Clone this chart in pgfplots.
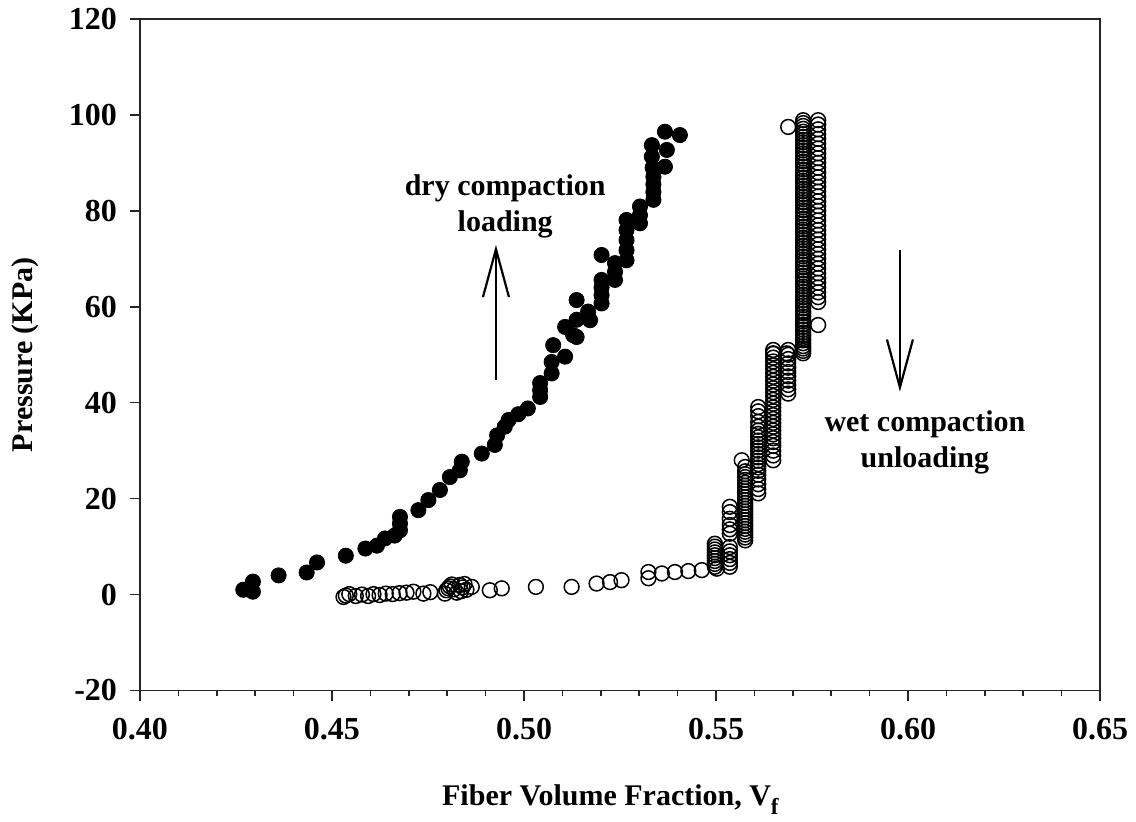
\documentclass[border=0pt]{standalone}
\usepackage{fontspec}
\setmainfont{Liberation Serif}
\usepackage{pgfplots}
\pgfplotsset{compat=1.18}
\usetikzlibrary{arrows.meta}

\newcommand{\chartfont}{\bfseries\fontsize{15bp}{18bp}\selectfont}
\newcommand{\tickfont}{\bfseries\fontsize{16bp}{19bp}\selectfont}

\begin{document}
\begin{tikzpicture}
\begin{axis}[
  name=ax,
  scale only axis,
  width=480bp, height=335.75bp,
  xmin=0.40, xmax=0.65, ymin=-20, ymax=120,
  xtick={0.40,0.45,0.50,0.55,0.60,0.65},
  xticklabels={0.40,0.45,0.50,0.55,0.60,0.65},
  minor x tick num=4,
  ytick={-20,0,20,40,60,80,100,120},
  yticklabels={-20,0,20,40,60,80,100,120},
  tick align=outside,
  xtick pos=bottom, ytick pos=left,
  major tick length=5bp, minor tick length=2.5bp,
  every tick/.style={black!85, line width=0.75bp},
  axis line style={black!85, line width=0.75bp},
  tick label style={font=\tickfont},
  xticklabel style={yshift=-5.5bp},
  yticklabel style={xshift=-3bp},
  label style={font=\chartfont},
  xlabel={Fiber Volume Fraction, V\raisebox{-0.6ex}{\fontsize{11.5bp}{11.5bp}\selectfont f}},
  ylabel={Pressure (KPa)},
  xlabel style={at={(axis description cs:0.49,-0.172)}, anchor=base},
  ylabel style={at={(axis description cs:-0.119,0.5)}, anchor=center},
  clip=false,
]

% dry compaction, loading
\addplot[only marks, mark=*, mark size=3.8bp,
  mark options={fill=black, draw=black, line width=0.4bp}] coordinates {
(0.4269,1.0) (0.4294,2.7) (0.4294,0.6) (0.4361,4.0) (0.4434,4.6) (0.4461,6.7)
(0.4536,8.1) (0.4587,9.6) (0.4617,10.2) (0.4638,11.7) (0.4663,12.3)
(0.4677,13.4) (0.4677,14.8) (0.4677,16.2) (0.4725,17.6) (0.4751,19.7)
(0.4781,21.8) (0.4807,24.5) (0.4833,25.9) (0.4838,27.7) (0.4890,29.4)
(0.4924,31.2) (0.4930,33.2) (0.4950,35.0) (0.4960,36.4) (0.4985,37.6)
(0.5010,38.8) (0.5042,41.2) (0.5042,42.6) (0.5042,44.1) (0.5072,46.1)
(0.5072,48.5) (0.5107,49.6) (0.5076,52.0) (0.5107,55.8) (0.5128,54.1)
(0.5137,53.7) (0.5137,57.3) (0.5137,61.4) (0.5172,57.2) (0.5167,59.0)
(0.5202,60.7) (0.5202,62.4) (0.5202,64.0) (0.5202,65.6) (0.5202,70.8)
(0.5237,65.6) (0.5237,67.3) (0.5237,69.1) (0.5267,69.7) (0.5267,71.8)
(0.5267,73.9) (0.5267,76.0) (0.5267,78.1) (0.5302,77.4) (0.5302,79.1)
(0.5302,80.9) (0.5337,82.3) (0.5337,83.9) (0.5337,85.5) (0.5337,87.1)
(0.5335,89.0) (0.5333,91.3) (0.5333,93.7) (0.5367,89.2) (0.5372,92.7)
(0.5367,96.5) (0.5406,95.8)
};

% wet compaction, unloading: low-pressure tail and knee
\addplot[only marks, mark=o, mark size=3.7bp,
  mark options={draw=black, line width=0.75bp}] coordinates {
(0.4530,-0.5) (0.4536,-0.2) (0.4545,0.1) (0.4562,-0.3) (0.4578,0.0)
(0.4594,-0.3) (0.4608,0.1) (0.4624,-0.1) (0.4640,0.2) (0.4658,0.1)
(0.4676,0.3) (0.4694,0.4) (0.4712,0.6) (0.4738,0.2) (0.4756,0.5)
(0.4794,0.2) (0.4798,0.9) (0.4803,1.3) (0.4807,1.7) (0.4812,2.1)
(0.4818,1.1) (0.4825,0.4) (0.4833,2.0) (0.4836,0.7) (0.4840,1.5)
(0.4845,2.2) (0.4850,1.0) (0.4864,1.6) (0.4911,0.9) (0.4942,1.3)
(0.5031,1.6) (0.5124,1.6) (0.5189,2.3) (0.5224,2.6) (0.5254,3.0)
(0.5324,3.4) (0.5324,4.7) (0.5359,4.4) (0.5393,4.7) (0.5428,4.9)
(0.5463,5.1) (0.5502,5.4)
% column near 0.550
(0.5497,5.8) (0.5497,6.4) (0.5497,7.0) (0.5497,7.6) (0.5497,8.2)
(0.5497,8.8) (0.5497,9.4) (0.5497,10.0) (0.5497,10.6)
% column near 0.554
(0.5536,5.8) (0.5536,6.6) (0.5536,7.4) (0.5536,8.2) (0.5536,9.0) (0.5536,9.9)
(0.5536,12.7) (0.5536,13.6) (0.5536,14.5) (0.5536,15.8) (0.5536,17.2) (0.5536,18.3)
% column near 0.558
(0.5576,11.3) (0.5576,11.9) (0.5576,12.5) (0.5576,13.1) (0.5576,13.7)
(0.5576,14.3) (0.5576,14.9) (0.5576,15.5) (0.5576,16.1) (0.5576,16.7)
(0.5576,17.3) (0.5576,17.9) (0.5576,18.5) (0.5576,19.1) (0.5576,19.7)
(0.5576,20.3) (0.5576,20.9) (0.5576,21.5) (0.5576,22.1) (0.5576,22.7)
(0.5576,23.3) (0.5576,23.9) (0.5576,24.5) (0.5576,25.1) (0.5576,25.7)
(0.5576,26.6) (0.5567,28.0)
% column near 0.561
(0.5610,21.1) (0.5610,22.0) (0.5610,23.0) (0.5610,24.0) (0.5610,25.0)
(0.5610,25.8) (0.5610,26.5) (0.5610,27.2) (0.5610,27.9) (0.5610,28.6)
(0.5610,29.3) (0.5610,30.0) (0.5610,30.7) (0.5610,31.4) (0.5610,32.1)
(0.5610,32.8) (0.5610,33.5) (0.5610,34.2) (0.5610,35.0) (0.5610,36.0)
(0.5610,37.2) (0.5610,38.2) (0.5610,39.1)
% column near 0.565
(0.5649,28.0) (0.5649,29.0) (0.5649,30.0) (0.5649,31.0) (0.5649,31.8)
(0.5649,32.6) (0.5649,33.4) (0.5649,34.2) (0.5649,35.0) (0.5649,35.8)
(0.5649,36.6) (0.5649,37.4) (0.5649,38.2) (0.5649,39.0) (0.5649,39.8)
(0.5649,40.6) (0.5649,41.4) (0.5649,42.2) (0.5649,43.0) (0.5649,43.8)
(0.5649,44.6) (0.5649,45.4) (0.5649,46.2) (0.5649,47.0) (0.5649,47.8)
(0.5649,48.6) (0.5649,49.4) (0.5649,50.2) (0.5649,51.0)
% column near 0.569
(0.5688,41.9) (0.5688,42.8) (0.5688,43.7) (0.5688,44.6) (0.5688,45.5)
(0.5688,46.4) (0.5688,47.3) (0.5688,48.2) (0.5688,49.1) (0.5688,50.0)
(0.5688,51.0) (0.5684,50.3) (0.5649,50.3) (0.5727,50.3)
};

% wet compaction, unloading: high-pressure plateau
\addplot[only marks, mark=o, mark size=3.7bp,
  mark options={draw=black, line width=0.75bp}] coordinates {
(0.5688,97.5)
(0.5727,50.8) (0.5727,51.3) (0.5727,51.8) (0.5727,52.4) (0.5727,53.0)
(0.5727,53.5) (0.5727,54.1) (0.5727,54.6) (0.5727,55.2) (0.5727,55.8)
(0.5727,56.3) (0.5727,56.9) (0.5727,57.4) (0.5727,58.0) (0.5727,58.6)
(0.5727,59.1) (0.5727,59.7) (0.5727,60.3) (0.5727,60.8) (0.5727,61.4)
(0.5727,62.0) (0.5727,62.5) (0.5727,63.1) (0.5727,63.7) (0.5727,64.2)
(0.5727,64.8) (0.5727,65.4) (0.5727,65.9) (0.5727,66.5) (0.5727,67.1)
(0.5727,67.6) (0.5727,68.2) (0.5727,68.8) (0.5727,69.3) (0.5727,69.9)
(0.5727,70.5) (0.5727,71.0) (0.5727,71.6) (0.5727,72.2) (0.5727,72.7)
(0.5727,73.3) (0.5727,73.9) (0.5727,74.4) (0.5727,75.0) (0.5727,75.6)
(0.5727,76.1) (0.5727,76.7) (0.5727,77.3) (0.5727,77.8) (0.5727,78.4)
(0.5727,79.0) (0.5727,79.5) (0.5727,80.1) (0.5727,80.7) (0.5727,81.2)
(0.5727,81.8) (0.5727,82.4) (0.5727,82.9) (0.5727,83.5) (0.5727,84.1)
(0.5727,84.6) (0.5727,85.2) (0.5727,85.8) (0.5727,86.3) (0.5727,86.9)
(0.5727,87.5) (0.5727,88.0) (0.5727,88.6) (0.5727,89.2) (0.5727,89.7)
(0.5727,90.3) (0.5727,90.9) (0.5727,91.4) (0.5727,92.0) (0.5727,92.6)
(0.5727,93.1) (0.5727,93.7) (0.5727,94.3) (0.5727,94.8) (0.5727,95.4)
(0.5727,96.0) (0.5727,96.5) (0.5727,97.1) (0.5727,97.7) (0.5727,98.3)
(0.5727,98.9)
(0.5766,56.2) (0.5766,61.0) (0.5766,62.0) (0.5766,63.0) (0.5766,64.0)
(0.5766,65.0) (0.5766,66.0) (0.5766,67.0) (0.5766,68.0) (0.5766,69.0)
(0.5766,70.0) (0.5766,71.0) (0.5766,72.0) (0.5766,73.0) (0.5766,74.0)
(0.5766,75.0) (0.5766,76.0) (0.5766,77.0) (0.5766,78.0) (0.5766,79.0)
(0.5766,80.0) (0.5766,81.0) (0.5766,82.0) (0.5766,83.0) (0.5766,84.0)
(0.5766,85.0) (0.5766,86.0) (0.5766,87.0) (0.5766,88.0) (0.5766,89.0)
(0.5766,90.0) (0.5766,91.0) (0.5766,92.0) (0.5766,93.0) (0.5766,94.0)
(0.5766,95.0) (0.5766,96.0) (0.5766,97.0) (0.5766,98.0) (0.5766,98.9)
};

% annotations
\node[font=\chartfont, align=center, inner sep=0pt]
  at (axis cs:0.4951,80.9) {dry compaction\\loading};
\draw[line width=1.1bp, -{Straight Barb[length=24bp,width=13bp]}]
  (axis cs:0.4927,44.7) -- (axis cs:0.4927,72.9);
\draw[line width=1.1bp, -{Straight Barb[length=24bp,width=13bp]}]
  (axis cs:0.5979,71.8) -- (axis cs:0.5979,42.3);
\node[font=\chartfont, align=center, inner sep=0pt]
  at (axis cs:0.6044,31.7) {wet compaction\\unloading};
\end{axis}
\pgfresetboundingbox
\path ([shift={(-70bp,-65.75bp)}]ax.south west)
  rectangle ([shift={(498bp,345.25bp)}]ax.south west);
\end{tikzpicture}
\end{document}
